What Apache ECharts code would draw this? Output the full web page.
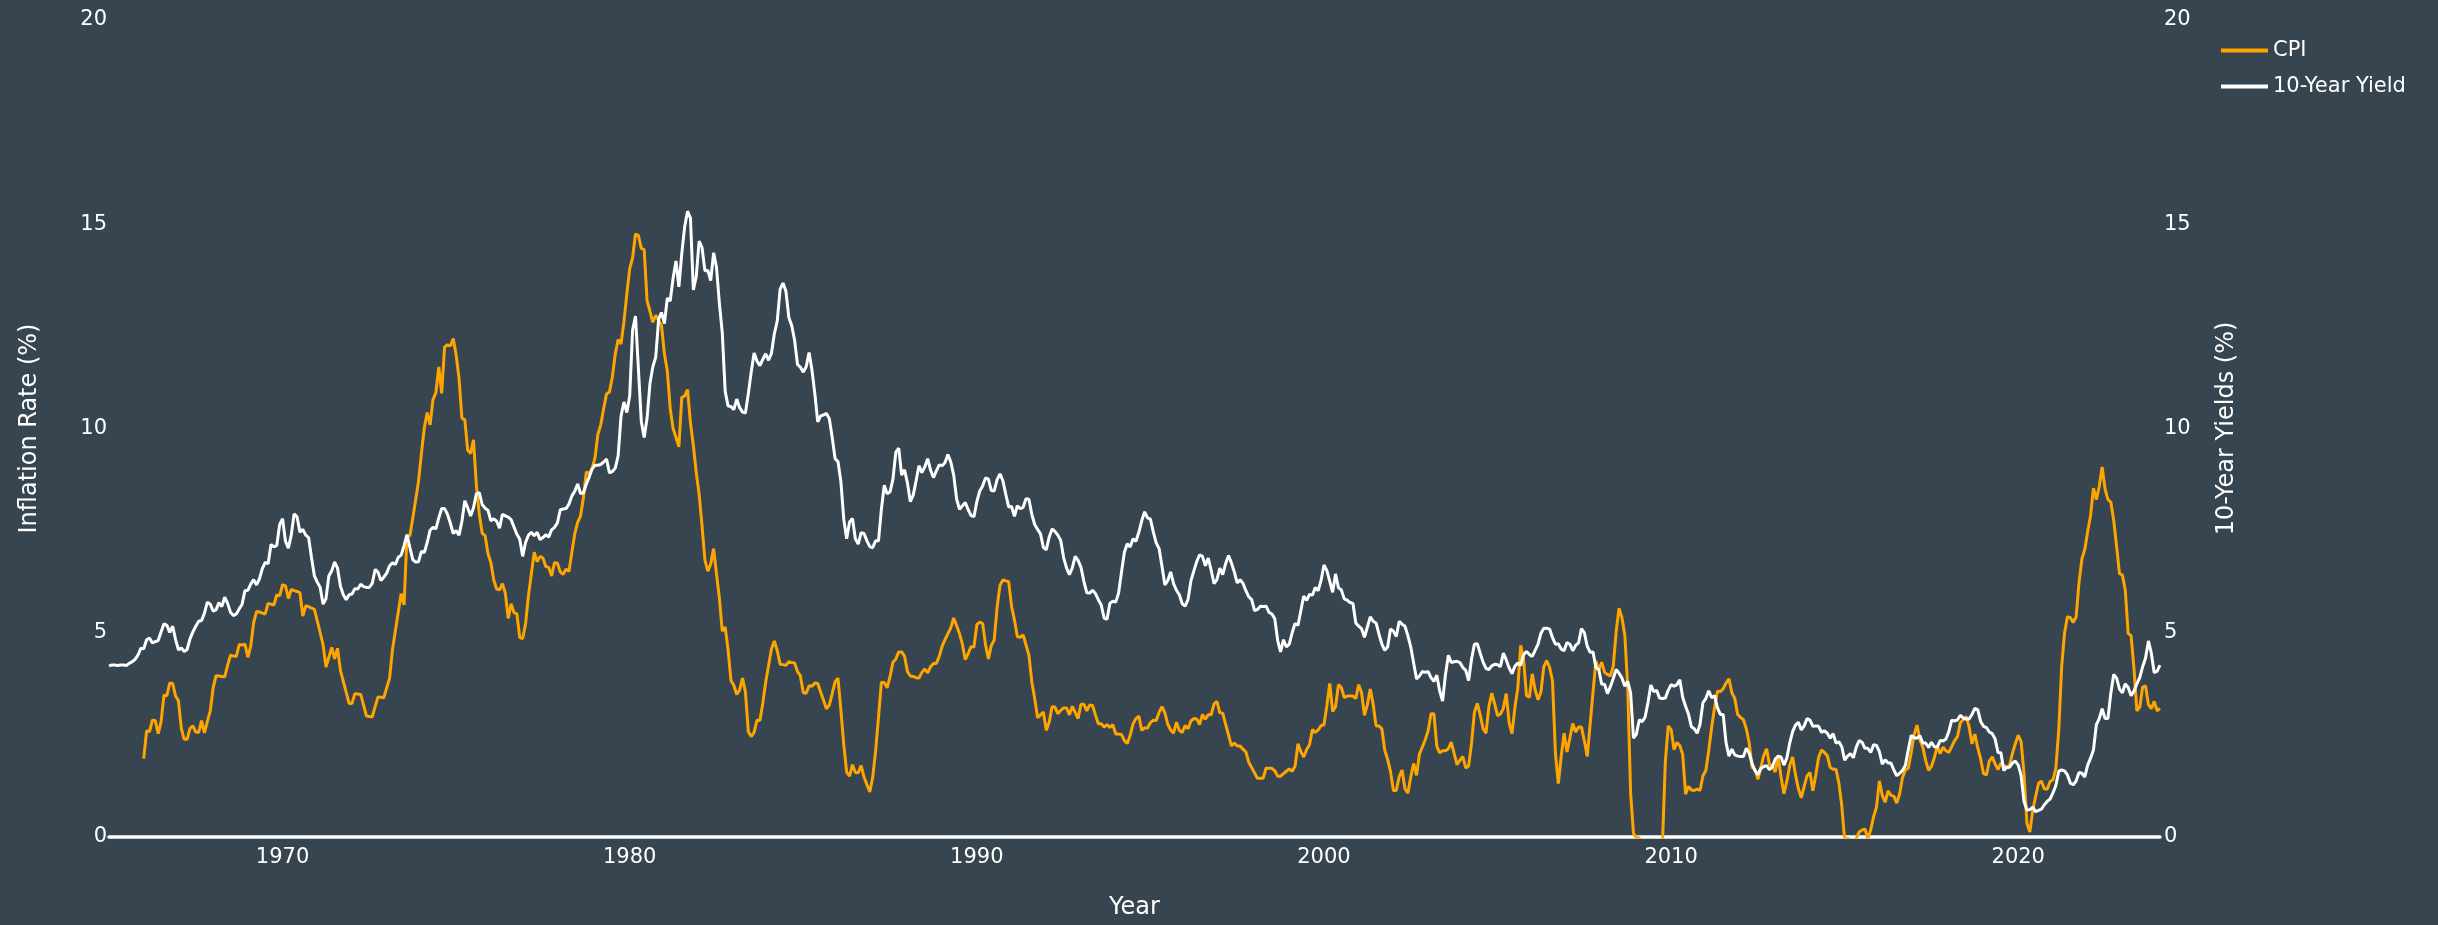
<!DOCTYPE html>
<html>
<head>
<meta charset="utf-8">
<script src="https://cdn.jsdelivr.net/npm/echarts@6/dist/echarts.min.js"></script>
<style>
  html, body { margin: 0; padding: 0; background: #36454f; }
  #grafico { width: 2438px; height: 925px; }
</style>
</head>
<body>
<div id="grafico"></div>
<script>
// 10-year treasury yield, monthly from Jan 1965
var yieldStart = 1965;
var yieldValues = [
  4.19, 4.21, 4.21, 4.20, 4.21, 4.21, 4.20, 4.25, 4.29, 4.35, 4.45, 4.62,
  4.61, 4.83, 4.87, 4.75, 4.78, 4.81, 5.02, 5.22, 5.18, 5.01, 5.16, 4.84,
  4.58, 4.63, 4.54, 4.59, 4.85, 5.02, 5.16, 5.28, 5.30, 5.48, 5.75, 5.70,
  5.53, 5.56, 5.74, 5.64, 5.87, 5.72, 5.50, 5.42, 5.46, 5.58, 5.70, 6.03,
  6.04, 6.19, 6.30, 6.17, 6.32, 6.57, 6.72, 6.69, 7.16, 7.10, 7.14, 7.65,
  7.79, 7.24, 7.07, 7.39, 7.91, 7.84, 7.46, 7.53, 7.39, 7.33, 6.84, 6.39,
  6.24, 6.11, 5.70, 5.83, 6.39, 6.52, 6.73, 6.58, 6.14, 5.93, 5.81, 5.93,
  5.95, 6.08, 6.07, 6.19, 6.13, 6.11, 6.11, 6.21, 6.55, 6.48, 6.28, 6.36,
  6.46, 6.64, 6.71, 6.67, 6.85, 6.90, 7.13, 7.40, 7.09, 6.79, 6.73, 6.74,
  6.99, 6.96, 7.21, 7.51, 7.58, 7.54, 7.81, 8.04, 8.04, 7.90, 7.68, 7.43,
  7.50, 7.39, 7.73, 8.23, 8.06, 7.86, 8.06, 8.40, 8.43, 8.14, 8.05, 8.00,
  7.74, 7.79, 7.73, 7.56, 7.90, 7.86, 7.83, 7.77, 7.59, 7.41, 7.29, 6.87,
  7.21, 7.39, 7.46, 7.37, 7.46, 7.28, 7.33, 7.40, 7.34, 7.52, 7.58, 7.69,
  8.01, 8.03, 8.04, 8.15, 8.35, 8.46, 8.64, 8.41, 8.42, 8.64, 8.81, 9.01,
  9.10, 9.10, 9.12, 9.18, 9.25, 8.91, 8.95, 9.03, 9.33, 10.30, 10.65, 10.39,
  10.80, 12.41, 12.75, 11.47, 10.18, 9.78, 10.25, 11.10, 11.51, 11.75, 12.68, 12.84,
  12.57, 13.19, 13.12, 13.68, 14.10, 13.47, 14.28, 14.94, 15.32, 15.15, 13.39, 13.72,
  14.59, 14.43, 13.86, 13.87, 13.62, 14.30, 13.95, 13.06, 12.34, 10.91, 10.55, 10.54,
  10.46, 10.72, 10.51, 10.40, 10.38, 10.85, 11.38, 11.85, 11.65, 11.54, 11.69, 11.83,
  11.67, 11.84, 12.32, 12.63, 13.41, 13.56, 13.36, 12.72, 12.52, 12.16, 11.57, 11.50,
  11.38, 11.51, 11.86, 11.43, 10.85, 10.16, 10.31, 10.33, 10.37, 10.24, 9.78, 9.26,
  9.19, 8.70, 7.78, 7.30, 7.71, 7.80, 7.30, 7.17, 7.45, 7.43, 7.25, 7.11,
  7.08, 7.25, 7.25, 8.02, 8.61, 8.40, 8.45, 8.76, 9.42, 9.52, 8.86, 8.99,
  8.67, 8.21, 8.37, 8.72, 9.09, 8.92, 9.06, 9.26, 8.98, 8.80, 8.96, 9.11,
  9.09, 9.17, 9.36, 9.18, 8.86, 8.28, 8.02, 8.11, 8.19, 8.01, 7.87, 7.84,
  8.21, 8.47, 8.59, 8.79, 8.76, 8.48, 8.47, 8.75, 8.89, 8.72, 8.39, 8.08,
  8.09, 7.85, 8.11, 8.04, 8.07, 8.28, 8.27, 7.90, 7.65, 7.53, 7.42, 7.09,
  7.03, 7.34, 7.54, 7.48, 7.39, 7.26, 6.84, 6.59, 6.42, 6.59, 6.87, 6.77,
  6.60, 6.26, 5.98, 5.97, 6.04, 5.96, 5.81, 5.68, 5.36, 5.33, 5.72, 5.77,
  5.75, 5.97, 6.48, 6.97, 7.18, 7.10, 7.30, 7.24, 7.46, 7.74, 7.96, 7.81,
  7.78, 7.47, 7.20, 7.06, 6.63, 6.17, 6.28, 6.49, 6.20, 6.04, 5.93, 5.71,
  5.65, 5.81, 6.27, 6.51, 6.74, 6.91, 6.87, 6.64, 6.83, 6.53, 6.20, 6.30,
  6.58, 6.42, 6.69, 6.89, 6.71, 6.49, 6.22, 6.30, 6.21, 6.03, 5.88, 5.81,
  5.54, 5.57, 5.65, 5.64, 5.65, 5.50, 5.46, 5.34, 4.81, 4.53, 4.83, 4.65,
  4.72, 5.00, 5.23, 5.18, 5.54, 5.90, 5.79, 5.94, 5.92, 6.11, 6.03, 6.28,
  6.66, 6.52, 6.26, 5.99, 6.44, 6.10, 6.05, 5.83, 5.80, 5.74, 5.72, 5.24,
  5.16, 5.10, 4.89, 5.14, 5.39, 5.28, 5.24, 4.97, 4.73, 4.57, 4.65, 5.09,
  5.04, 4.91, 5.28, 5.21, 5.16, 4.93, 4.65, 4.26, 3.87, 3.94, 4.05, 4.03,
  4.05, 3.90, 3.81, 3.96, 3.57, 3.33, 3.98, 4.45, 4.27, 4.29, 4.30, 4.27,
  4.15, 4.08, 3.83, 4.35, 4.72, 4.73, 4.50, 4.28, 4.13, 4.10, 4.19, 4.23,
  4.22, 4.17, 4.50, 4.34, 4.14, 4.00, 4.18, 4.26, 4.20, 4.46, 4.54, 4.47,
  4.42, 4.57, 4.72, 4.99, 5.11, 5.11, 5.09, 4.88, 4.72, 4.73, 4.60, 4.56,
  4.76, 4.72, 4.56, 4.69, 4.75, 5.10, 5.00, 4.67, 4.52, 4.53, 4.15, 4.10,
  3.74, 3.74, 3.51, 3.68, 3.88, 4.10, 4.01, 3.89, 3.69, 3.81, 3.53, 2.42,
  2.52, 2.87, 2.82, 2.93, 3.29, 3.72, 3.56, 3.59, 3.40, 3.39, 3.40, 3.59,
  3.73, 3.69, 3.73, 3.85, 3.42, 3.20, 3.01, 2.70, 2.65, 2.54, 2.76, 3.29,
  3.39, 3.58, 3.41, 3.46, 3.17, 3.00, 3.00, 2.30, 1.98, 2.15, 2.01, 1.98,
  1.97, 1.97, 2.17, 2.05, 1.80, 1.62, 1.53, 1.68, 1.72, 1.75, 1.65, 1.72,
  1.91, 1.98, 1.96, 1.76, 1.93, 2.30, 2.58, 2.74, 2.81, 2.62, 2.72, 2.90,
  2.86, 2.71, 2.72, 2.71, 2.56, 2.60, 2.54, 2.42, 2.53, 2.30, 2.33, 2.21,
  1.88, 1.98, 2.04, 1.94, 2.20, 2.36, 2.32, 2.17, 2.17, 2.07, 2.26, 2.24,
  2.09, 1.78, 1.89, 1.81, 1.81, 1.64, 1.50, 1.56, 1.63, 1.76, 2.14, 2.49,
  2.43, 2.42, 2.48, 2.30, 2.30, 2.19, 2.32, 2.21, 2.20, 2.36, 2.35, 2.40,
  2.58, 2.86, 2.84, 2.87, 2.98, 2.91, 2.89, 2.89, 3.00, 3.15, 3.12, 2.83,
  2.71, 2.68, 2.57, 2.53, 2.40, 2.07, 2.06, 1.63, 1.70, 1.71, 1.81, 1.86,
  1.76, 1.50, 0.87, 0.66, 0.67, 0.73, 0.62, 0.65, 0.68, 0.79, 0.87, 0.93,
  1.08, 1.26, 1.61, 1.64, 1.62, 1.52, 1.32, 1.28, 1.37, 1.58, 1.56, 1.47,
  1.76, 1.93, 2.13, 2.75, 2.90, 3.14, 2.90, 2.90, 3.52, 3.98, 3.89, 3.62,
  3.53, 3.75, 3.66, 3.46, 3.57, 3.75, 3.90, 4.17, 4.38, 4.80, 4.50, 4.02,
  4.06, 4.21
];

// CPI year-over-year change, monthly from Jan 1966
var cpiStart = 1966;
var cpiValues = [
  1.92, 2.60, 2.58, 2.86, 2.85, 2.53, 2.82, 3.47, 3.46, 3.77, 3.76, 3.45,
  3.34, 2.66, 2.39, 2.39, 2.66, 2.72, 2.57, 2.56, 2.85, 2.55, 2.83, 3.08,
  3.65, 3.95, 3.94, 3.93, 3.92, 4.20, 4.45, 4.43, 4.42, 4.71, 4.70, 4.72,
  4.40, 4.67, 5.25, 5.52, 5.51, 5.48, 5.46, 5.72, 5.70, 5.68, 5.93, 5.90,
  6.18, 6.15, 5.84, 6.06, 6.03, 6.01, 5.98, 5.41, 5.66, 5.64, 5.60, 5.57,
  5.29, 5.00, 4.71, 4.16, 4.40, 4.64, 4.36, 4.62, 4.08, 3.81, 3.54, 3.27,
  3.27, 3.51, 3.50, 3.49, 3.23, 2.96, 2.95, 2.94, 3.19, 3.43, 3.42, 3.41,
  3.65, 3.89, 4.59, 5.05, 5.51, 5.96, 5.68, 7.38, 7.37, 7.80, 8.25, 8.71,
  9.39, 10.02, 10.39, 10.09, 10.71, 10.88, 11.51, 10.86, 11.99, 12.05, 12.02, 12.20,
  11.80, 11.23, 10.25, 10.21, 9.47, 9.39, 9.72, 8.60, 7.91, 7.44, 7.38, 6.94,
  6.72, 6.29, 6.07, 6.05, 6.20, 5.97, 5.35, 5.71, 5.49, 5.46, 4.88, 4.86,
  5.22, 5.91, 6.44, 6.97, 6.74, 6.87, 6.83, 6.62, 6.60, 6.39, 6.72, 6.70,
  6.49, 6.43, 6.56, 6.50, 6.97, 7.42, 7.70, 7.86, 8.31, 8.94, 8.89, 9.02,
  9.28, 9.86, 10.09, 10.49, 10.85, 10.89, 11.26, 11.82, 12.18, 12.07, 12.61, 13.29,
  13.91, 14.18, 14.76, 14.73, 14.41, 14.38, 13.13, 12.87, 12.60, 12.77, 12.65, 12.52,
  11.83, 11.41, 10.49, 10.00, 9.78, 9.55, 10.76, 10.80, 10.95, 10.14, 9.59, 8.92,
  8.39, 7.62, 6.78, 6.51, 6.68, 7.06, 6.44, 5.85, 5.04, 5.14, 4.59, 3.83,
  3.71, 3.49, 3.60, 3.89, 3.55, 2.58, 2.46, 2.56, 2.86, 2.85, 3.27, 3.79,
  4.19, 4.60, 4.80, 4.56, 4.23, 4.22, 4.20, 4.29, 4.27, 4.26, 4.05, 3.95,
  3.53, 3.52, 3.70, 3.69, 3.77, 3.76, 3.55, 3.35, 3.14, 3.23, 3.51, 3.80,
  3.89, 3.11, 2.26, 1.59, 1.49, 1.77, 1.58, 1.57, 1.75, 1.47, 1.28, 1.10,
  1.46, 2.10, 2.93, 3.79, 3.78, 3.65, 3.93, 4.28, 4.36, 4.53, 4.53, 4.43,
  4.05, 3.94, 3.93, 3.90, 3.89, 4.03, 4.11, 4.02, 4.17, 4.25, 4.25, 4.42,
  4.67, 4.83, 4.98, 5.12, 5.36, 5.17, 4.98, 4.72, 4.34, 4.49, 4.66, 4.65,
  5.20, 5.26, 5.23, 4.71, 4.36, 4.69, 4.82, 5.62, 6.16, 6.29, 6.27, 6.25,
  5.65, 5.31, 4.90, 4.89, 4.95, 4.70, 4.45, 3.80, 3.39, 2.92, 2.99, 3.06,
  2.61, 2.81, 3.19, 3.18, 3.02, 3.10, 3.16, 3.16, 2.99, 3.20, 3.05, 2.90,
  3.25, 3.25, 3.09, 3.23, 3.22, 2.99, 2.77, 2.77, 2.69, 2.75, 2.68, 2.75,
  2.52, 2.52, 2.51, 2.36, 2.29, 2.49, 2.77, 2.90, 2.96, 2.61, 2.67, 2.67,
  2.80, 2.86, 2.85, 3.05, 3.19, 3.04, 2.76, 2.62, 2.54, 2.81, 2.61, 2.56,
  2.73, 2.65, 2.84, 2.90, 2.89, 2.75, 3.00, 2.88, 3.00, 2.99, 3.26, 3.32,
  3.04, 3.03, 2.76, 2.50, 2.23, 2.30, 2.23, 2.23, 2.15, 2.08, 1.83, 1.70,
  1.57, 1.44, 1.44, 1.44, 1.69, 1.68, 1.68, 1.62, 1.49, 1.49, 1.55, 1.61,
  1.67, 1.61, 1.73, 2.28, 2.09, 1.96, 2.14, 2.26, 2.63, 2.56, 2.62, 2.73,
  2.74, 3.22, 3.76, 3.07, 3.19, 3.73, 3.66, 3.41, 3.45, 3.45, 3.45, 3.39,
  3.73, 3.53, 2.98, 3.24, 3.62, 3.25, 2.72, 2.72, 2.65, 2.13, 1.90, 1.60,
  1.14, 1.14, 1.48, 1.64, 1.18, 1.07, 1.47, 1.80, 1.51, 2.03, 2.20, 2.38,
  2.60, 3.02, 3.02, 2.22, 2.06, 2.11, 2.11, 2.16, 2.32, 2.04, 1.77, 1.88,
  1.97, 1.69, 1.74, 2.29, 3.05, 3.27, 2.99, 2.65, 2.54, 3.19, 3.52, 3.26,
  2.97, 3.01, 3.15, 3.51, 2.80, 2.53, 3.17, 3.64, 4.69, 4.35, 3.46, 3.42,
  3.99, 3.60, 3.36, 3.55, 4.17, 4.32, 4.15, 3.82, 2.06, 1.31, 1.97, 2.54,
  2.08, 2.42, 2.78, 2.57, 2.69, 2.69, 2.36, 1.97, 2.76, 3.54, 4.31, 4.08,
  4.28, 4.03, 3.98, 3.94, 4.18, 5.02, 5.60, 5.37, 4.94, 3.66, 1.07, 0.09,
  -0.02, -0.02, -0.63, -0.80, -1.25, -1.45, -2.10, -1.48, -1.38, -0.18, 1.84, 2.72,
  2.63, 2.14, 2.31, 2.24, 2.02, 1.05, 1.24, 1.15, 1.14, 1.17, 1.14, 1.50,
  1.63, 2.11, 2.68, 3.16, 3.57, 3.56, 3.63, 3.77, 3.87, 3.53, 3.39, 3.00,
  2.93, 2.87, 2.65, 2.30, 1.70, 1.66, 1.41, 1.69, 1.99, 2.16, 1.77, 1.74,
  1.59, 1.98, 1.47, 1.06, 1.36, 1.75, 1.96, 1.52, 1.18, 0.96, 1.24, 1.50,
  1.58, 1.13, 1.51, 1.95, 2.13, 2.07, 1.99, 1.70, 1.66, 1.66, 1.32, 0.76,
  -0.09, -0.03, -0.07, -0.20, -0.04, 0.12, 0.17, 0.20, -0.04, 0.17, 0.50, 0.73,
  1.37, 1.02, 0.85, 1.13, 1.02, 1.00, 0.83, 1.06, 1.46, 1.64, 1.69, 2.07,
  2.50, 2.74, 2.38, 2.20, 1.87, 1.63, 1.73, 1.94, 2.23, 2.04, 2.20, 2.11,
  2.07, 2.21, 2.36, 2.46, 2.80, 2.87, 2.95, 2.70, 2.28, 2.52, 2.18, 1.91,
  1.55, 1.52, 1.86, 1.96, 1.79, 1.65, 1.81, 1.75, 1.71, 1.76, 2.05, 2.29,
  2.49, 2.33, 1.54, 0.33, 0.12, 0.65, 0.99, 1.31, 1.37, 1.18, 1.17, 1.36,
  1.40, 1.68, 2.62, 4.16, 4.99, 5.39, 5.37, 5.25, 5.39, 6.22, 6.81, 7.04,
  7.48, 7.87, 8.54, 8.26, 8.58, 9.06, 8.52, 8.26, 8.20, 7.75, 7.11, 6.45,
  6.41, 6.04, 4.98, 4.93, 4.13, 3.09, 3.18, 3.67, 3.70, 3.24, 3.14, 3.32,
  3.09, 3.15
];

var yearTicks = [1970, 1980, 1990, 2000, 2010, 2020];

// pares [año decimal, valor] para el eje x numérico
function monthly(startYear, values) {
  return values.map(function (v, i) { return [startYear + i / 12, v]; });
}

var myChart = echarts.init(document.getElementById('grafico'));
var txt = '#ffffff';
var font = 'DejaVu Sans';

var option = {
  backgroundColor: '#36454f',
  animation: false,
  textStyle: { fontFamily: font, color: txt },
  grid: { left: 109, right: 278, top: 20, bottom: 83 },
  legend: {
    orient: 'vertical',
    left: 2216,
    top: 33,
    icon: 'rect',
    itemWidth: 47,
    itemHeight: 4,
    itemGap: 11,
    textStyle: { color: txt, fontSize: 21, fontFamily: font, lineHeight: 25 },
    data: ['CPI', '10-Year Yield']
  },
  xAxis: {
    type: 'value',
    min: yieldStart,
    max: yieldStart + (yieldValues.length - 1) / 12,
    name: 'Year',
    nameLocation: 'middle',
    nameGap: 59,
    nameTextStyle: { color: txt, fontSize: 24, fontFamily: font },
    splitLine: { show: false },
    axisTick: { show: false },
    axisLine: { show: true, onZero: false, lineStyle: { color: '#ffffff', width: 3.5 } },
    axisLabel: {
      customValues: yearTicks,
      color: txt,
      fontSize: 21,
      margin: 10,
      formatter: function (v) { return String(Math.round(v)); }
    }
  },
  yAxis: [{
    type: 'value',
    min: 0,
    max: 20,
    interval: 5,
    position: 'left',
    name: 'Inflation Rate (%)',
    nameLocation: 'middle',
    nameRotate: 90,
    nameGap: 67,
    nameTextStyle: { color: txt, fontSize: 24, fontFamily: font },
    splitLine: { show: false },
    axisLine: { show: false },
    axisTick: { show: false },
    axisLabel: { color: txt, fontSize: 21, margin: 2 }
  }, {
    type: 'value',
    min: 0,
    max: 20,
    interval: 5,
    position: 'right',
    name: '10-Year Yields (%)',
    nameLocation: 'middle',
    nameRotate: 90,
    nameGap: 55,
    nameTextStyle: { color: txt, fontSize: 24, fontFamily: font },
    splitLine: { show: false },
    axisLine: { show: false },
    axisTick: { show: false },
    axisLabel: { color: txt, fontSize: 21, margin: 4 }
  }],
  series: [{
    name: 'CPI',
    type: 'line',
    yAxisIndex: 0,
    symbol: 'none',
    color: '#ffa500',
    lineStyle: { color: '#ffa500', width: 3 },
    data: monthly(cpiStart, cpiValues)
  }, {
    name: '10-Year Yield',
    type: 'line',
    yAxisIndex: 1,
    symbol: 'none',
    color: '#ffffff',
    lineStyle: { color: '#ffffff', width: 3 },
    data: monthly(yieldStart, yieldValues)
  }]
};

myChart.setOption(option);
</script>
</body>
</html>
